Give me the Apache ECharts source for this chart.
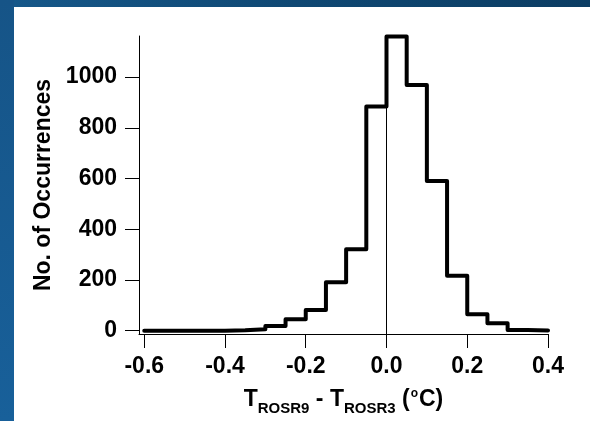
<!DOCTYPE html>
<html>
<head>
<meta charset="utf-8">
<script src="https://cdn.jsdelivr.net/npm/echarts@6/dist/echarts.min.js"></script>
<style>
html,body{margin:0;padding:0;width:590px;height:421px;overflow:hidden;}
#chart{width:590px;height:421px;}
</style>
</head>
<body>
<div id="chart"></div>
<script>
// Bin left edges (width 0.05) and counts
const binEdges = [-0.60,-0.55,-0.50,-0.45,-0.40,-0.35,-0.30,-0.25,-0.20,-0.15,-0.10,-0.05,0.00,0.05,0.10,0.15,0.20,0.25,0.30,0.35];
const binWidth = 0.05;
const counts = [0,0,0,0,2,6,19,45,82,191,321,884,1160,969,590,217,65,29,3,1];
const xTicks = [-0.6,-0.4,-0.2,0.0,0.2,0.4];
const yTicks = [0,200,400,600,800,1000];

const stepData = [];
for (let i = 0; i < binEdges.length; i++) stepData.push([binEdges[i], counts[i]]);
const lastEdge = binEdges[binEdges.length-1] + binWidth;
stepData.push([lastEdge, counts[counts.length-1]]);
stepData.push([lastEdge, 0]);

const chart = echarts.init(document.getElementById('chart'), null, {renderer:'canvas'});
const font = 'Liberation Sans, Arial, sans-serif';
chart.setOption({
  backgroundColor: '#ffffff',
  animation: false,
  graphic: [
    {type:'rect', left:0, top:0, shape:{width:590, height:7}, style:{fill:new echarts.graphic.LinearGradient(0,0,1,0,[{offset:0,color:'#16588a'},{offset:0.5,color:'#0f4873'},{offset:1,color:'#0c3d63'}])}, silent:true},
    {type:'rect', left:0, top:0, shape:{width:14, height:421}, style:{fill:new echarts.graphic.LinearGradient(0,0,0,1,[{offset:0,color:'#165487'},{offset:1,color:'#18609a'}])}, silent:true}
  ],
  grid: {left:139, right:42, top:36, bottom:87, containLabel:false, outerBoundsMode:'none'},
  xAxis: {
    type:'value', min:-0.613, max:0.4,
    axisLine:{show:true, onZero:false, lineStyle:{color:'#000', width:1}},
    axisTick:{show:true, length:14, inside:false, customValues:xTicks, lineStyle:{color:'#000', width:1}},
    axisLabel:{customValues:xTicks, margin:21, color:'#000', fontFamily:font, fontWeight:'bold', fontSize:23,
      formatter: v => v.toFixed(1)},
    splitLine:{show:false},
    name:'{t|T}{s|ROSR9}{t| - T}{s|ROSR3}{t| (}{o|o}{t|C)}',
    nameLocation:'middle', nameGap:54,
    nameTextStyle:{
      rich:{
        t:{fontFamily:font, fontWeight:'bold', fontSize:23, color:'#000', lineHeight:28, verticalAlign:'bottom', padding:[0,0,5,0]},
        s:{fontFamily:font, fontWeight:'bold', fontSize:15, color:'#000', lineHeight:20, verticalAlign:'bottom'},
        o:{fontFamily:font, fontWeight:'bold', fontSize:12, color:'#000', lineHeight:12, verticalAlign:'top', padding:[0,1,0,1]}
      }
    }
  },
  yAxis: {
    type:'value', min:-13, max:1162,
    axisLine:{show:true, onZero:false, lineStyle:{color:'#000', width:1}},
    axisTick:{show:true, length:14, customValues:yTicks, lineStyle:{color:'#000', width:1}},
    axisLabel:{customValues:yTicks, margin:22, color:'#000', fontFamily:font, fontWeight:'bold', fontSize:23,
      formatter: v => String(v)},
    splitLine:{show:false},
    name:'No. of Occurrences', nameLocation:'middle', nameGap:84, nameRotate:90,
    nameTextStyle:{fontFamily:font, fontWeight:'bold', fontSize:23, color:'#000'}
  },
  series: [{
    type:'line', step:'end', data:stepData, showSymbol:false, symbol:'none',
    lineStyle:{color:'#000', width:4, join:'round', cap:'round'},
    markLine:{silent:true, symbol:['none','none'], label:{show:false},
      lineStyle:{color:'#000', width:1, type:'solid'}, data:[{xAxis:0}]},
    z:3
  }]
});
</script>
</body>
</html>
